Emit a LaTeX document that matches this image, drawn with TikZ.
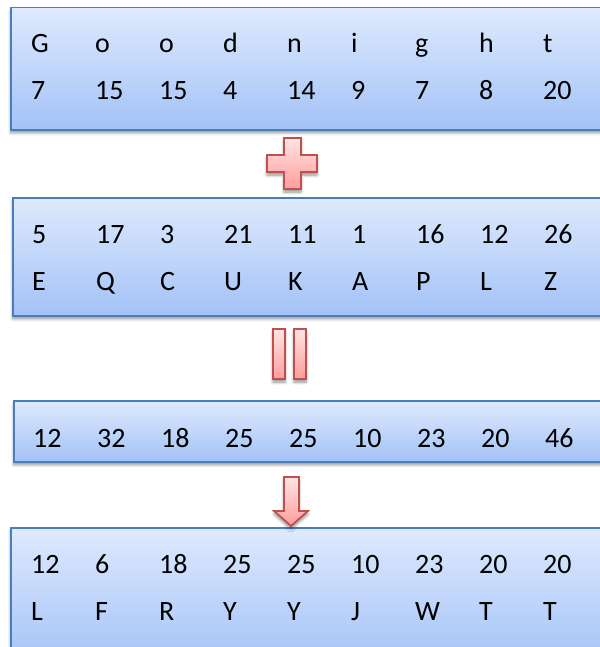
\documentclass[tikz,border=0pt]{standalone}
\usepackage{fontspec}
\setmainfont{Carlito}
\usetikzlibrary{shadows.blur}
\definecolor{boxtop}{HTML}{DEEAFD}
\definecolor{boxbot}{HTML}{A3C2F7}
\definecolor{boxline}{HTML}{4A7EBB}
\definecolor{optop}{HTML}{FFE4E4}
\definecolor{opbot}{HTML}{FF9C9C}
\definecolor{opline}{HTML}{C0504D}
\tikzset{
  softshadow/.style={blur shadow={shadow xshift=0bp, shadow yshift=-3bp, shadow blur radius=3bp, shadow blur steps=6, shadow opacity=45}},
  panel/.style={rectangle, draw=boxline, line width=1.5bp, top color=boxtop, bottom color=boxbot, inner sep=0pt, anchor=north west, minimum width=600bp, softshadow},
  opshape/.style={draw=opline, line width=1.8bp, top color=optop, bottom color=opbot, line join=miter, softshadow},
  cell/.style={anchor=base west, inner sep=0pt, font=\fontsize{28bp}{32bp}\selectfont},
}
\begin{document}
\begin{tikzpicture}[x=1bp, y=-1bp]
\useasboundingbox (0,0) rectangle (600,647);
\clip (0,0) rectangle (600,647);
% panels
\node[panel, minimum height=122bp] (b1) at (10,7) {};
\node[panel, minimum height=118bp] (b2) at (12,197) {};
\node[panel, minimum height=61bp] (b3) at (13,400) {};
\node[panel, minimum height=140bp] (b4) at (10,527) {};
% panel 1
\foreach \t [count=\i from 0] in {G,o,o,d,n,i,g,h,t}
  \node[cell] (p1a\i) at ({31+64*\i},53) {\t};
\foreach \t [count=\i from 0] in {7,15,15,4,14,9,7,8,20}
  \node[cell] (p1b\i) at ({31+64*\i},100) {\t};
% panel 2
\foreach \t [count=\i from 0] in {5,17,3,21,11,1,16,12,26}
  \node[cell] (p2a\i) at ({32+64*\i},243) {\t};
\foreach \t [count=\i from 0] in {E,Q,C,U,K,A,P,L,Z}
  \node[cell] (p2b\i) at ({32+64*\i},290) {\t};
% panel 3
\foreach \t [count=\i from 0] in {12,32,18,25,25,10,23,20,46}
  \node[cell] (p3a\i) at ({33+64*\i},447) {\t};
% panel 4
\foreach \t [count=\i from 0] in {12,6,18,25,25,10,23,20,20}
  \node[cell] (p4a\i) at ({31+64*\i},573) {\t};
\foreach \t [count=\i from 0] in {L,F,R,Y,Y,J,W,T,T}
  \node[cell] (p4b\i) at ({31+64*\i},620) {\t};
% plus sign
\path[opshape] (284,138) -- (301,138) -- (301,155) -- (317,155) -- (317,172) -- (301,172)
  -- (301,189) -- (284,189) -- (284,172) -- (267,172) -- (267,155) -- (284,155) -- cycle;
% equals sign (two bars)
\path[opshape] (273,329) rectangle (285,379);
\path[opshape] (294,329) rectangle (306,379);
% down arrow
\path[opshape] (284,477) -- (299,477) -- (299,511) -- (308,511) -- (291,526) -- (274,511) -- (284,511) -- cycle;
\end{tikzpicture}
\end{document}
